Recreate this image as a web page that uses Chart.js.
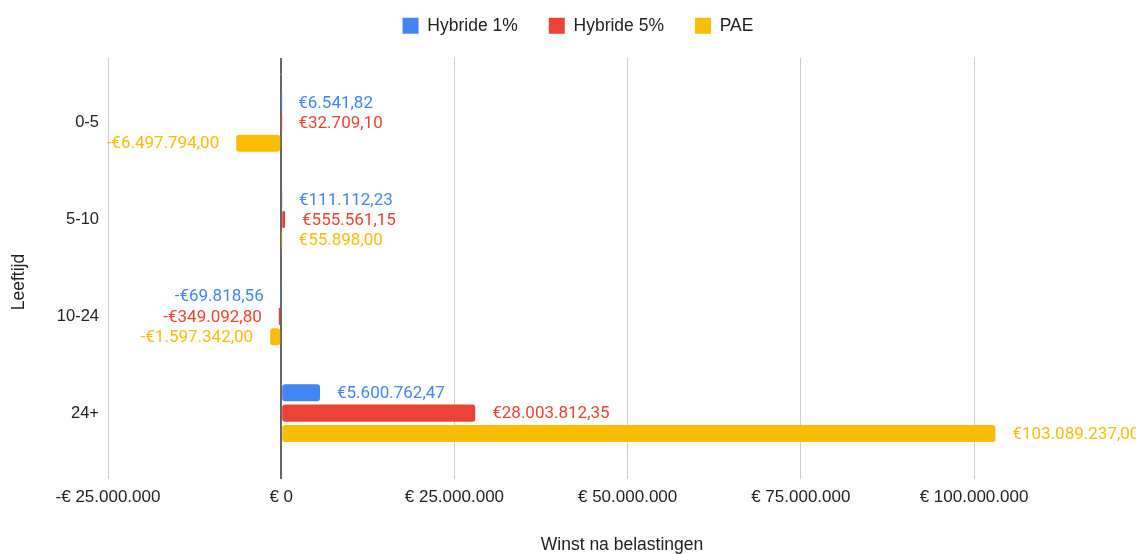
<!DOCTYPE html>
<html lang="nl">
<head>
<meta charset="utf-8">
<title>Winst na belastingen per leeftijd</title>
<script src="https://cdn.jsdelivr.net/npm/chart.js@4.4.1/dist/chart.umd.min.js"></script>
<style>
  html, body { margin: 0; padding: 0; background: #fff; }
  canvas { display: block; }
</style>
</head>
<body>
<canvas id="chart" width="1136" height="554"></canvas>
<script>
const categories = ['0-5', '5-10', '10-24', '24+'];
const seriesNames = ['Hybride 1%', 'Hybride 5%', 'PAE'];
const hybride1 = [6541.82, 111112.23, -69818.56, 5600762.47];
const hybride5 = [32709.10, 555561.15, -349092.80, 28003812.35];
const pae = [-6497794.00, 55898.00, -1597342.00, 103089237.00];
const xTicks = [-25000000, 0, 25000000, 50000000, 75000000, 100000000];
const colors = ['#4285F4', '#EA4335', '#FBBC04'];
const yTitle = 'Leeftijd';

// dutch number format: dots for thousands, comma for decimals
function dots(n) {
  return String(n).replace(/\B(?=(\d{3})+(?!\d))/g, '.');
}
function euroTick(v) {
  return (v < 0 ? '-€ ' : '€ ') + dots(Math.abs(v));
}
function euroLabel(v) {
  const parts = Math.abs(v).toFixed(2).split('.');
  return (v < 0 ? '-€' : '€') + dots(parts[0]) + ',' + parts[1];
}

function alignPx(px, w) {
  return Math.round(px - w / 2) + w / 2;
}

// keep room between legend and plot, nudge legend a bit to the right
const legendSpace = {
  id: 'legendSpace',
  afterInit(chart) {
    const fit = chart.legend.fit;
    chart.legend.fit = function () {
      fit.call(this);
      this.height = 88.5;
      this.lineWidths[0] -= 20;
    };
  }
};

// gridlines run a bit above the bars
const gridTop = {
  id: 'gridTop',
  beforeDatasetsDraw(chart) {
    const { ctx, chartArea, scales } = chart;
    const x = scales.x;
    ctx.save();
    x.ticks.forEach((t) => {
      const w = t.value === 0 ? 2 : 1;
      const px = alignPx(x.getPixelForValue(t.value), w);
      ctx.strokeStyle = t.value === 0 ? '#666' : '#ccc';
      ctx.lineWidth = w;
      ctx.beginPath();
      ctx.moveTo(px, 58);
      ctx.lineTo(px, chartArea.top);
      ctx.stroke();
    });
    ctx.restore();
  }
};

const valueLabels = {
  id: 'valueLabels',
  afterDatasetsDraw(chart) {
    const ctx = chart.ctx;
    ctx.save();
    ctx.font = '17px Roboto';
    ctx.textBaseline = 'middle';
    chart.data.datasets.forEach((ds, i) => {
      chart.getDatasetMeta(i).data.forEach((bar, j) => {
        const v = ds.data[j];
        ctx.fillStyle = colors[i];
        ctx.textAlign = v < 0 ? 'right' : 'left';
        ctx.fillText(euroLabel(v), v < 0 ? bar.x - 17 : bar.x + 17, bar.y + 1);
      });
    });
    ctx.restore();
  }
};

// y axis title sits a little lower than the plot middle
const leftTitle = {
  id: 'leftTitle',
  afterDraw(chart) {
    const ctx = chart.ctx;
    ctx.save();
    ctx.translate(19, 282);
    ctx.rotate(-Math.PI / 2);
    ctx.font = "17.5px 'Liberation Sans', Arial, sans-serif";
    ctx.fillStyle = '#222';
    ctx.textAlign = 'center';
    ctx.textBaseline = 'middle';
    ctx.fillText(yTitle, 0, 0);
    ctx.restore();
  }
};

Chart.defaults.font.family = "'Liberation Sans', Arial, sans-serif";
Chart.defaults.color = '#222';

const ctx = document.getElementById('chart').getContext('2d');
const chart = new Chart(ctx, {
  type: 'bar',
  data: {
    labels: categories,
    datasets: [hybride1, hybride5, pae].map((values, i) => ({
      label: seriesNames[i],
      data: values,
      backgroundColor: colors[i],
      borderWidth: 0,
      borderRadius: 3,
      borderSkipped: false,
      barPercentage: 0.84,
      categoryPercentage: 0.63
    }))
  },
  options: {
    indexAxis: 'y',
    responsive: false,
    animation: false,
    layout: { padding: { top: -14, left: 0, right: 0, bottom: 0 } },
    plugins: {
      tooltip: { enabled: false },
      legend: {
        position: 'top',
        labels: {
          boxWidth: 16,
          boxHeight: 16,
          padding: 31,
          color: '#222',
          font: { size: 17.5 }
        }
      }
    },
    scales: {
      x: {
        min: -25000000,
        max: 123380000,
        afterBuildTicks: (s) => { s.ticks = xTicks.map(v => ({ value: v })); },
        afterFit: (s) => { s.height = 92.5; },
        grid: {
          color: c => (c.tick && c.tick.value === 0 ? '#666' : '#ccc'),
          lineWidth: c => (c.tick && c.tick.value === 0 ? 2 : 1),
          drawTicks: true,
          tickLength: 17.5
        },
        border: { display: false },
        ticks: {
          callback: euroTick,
          autoSkip: false,
          maxRotation: 0,
          padding: 8,
          color: '#222',
          font: { size: 17 }
        },
        title: {
          display: true,
          text: 'Winst na belastingen',
          color: '#222',
          font: { size: 17.5, lineHeight: 1 },
          padding: 0
        }
      },
      y: {
        afterFit: (s) => { s.width = 108; },
        grid: { display: false, drawTicks: false },
        border: { display: false },
        ticks: { padding: 9, color: '#222', font: { size: 16.5 } },
        title: { display: false }
      }
    }
  },
  plugins: [legendSpace, gridTop, valueLabels, leftTitle]
});
</script>
</body>
</html>
